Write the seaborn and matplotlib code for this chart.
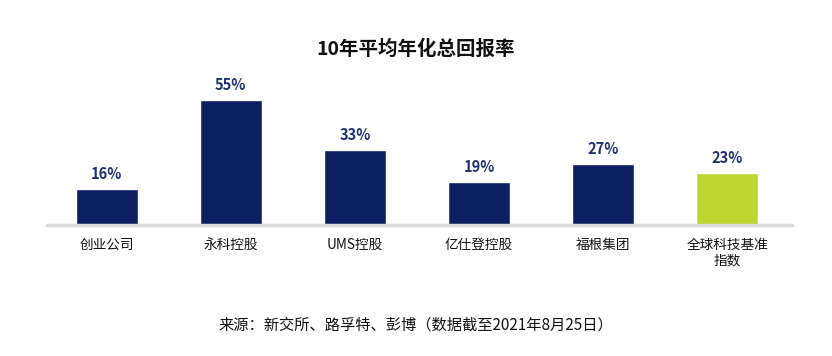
import matplotlib
matplotlib.use("Agg")
import matplotlib.pyplot as plt
import seaborn as sns

# chart data
companies = ['创业公司', '永科控股', 'UMS控股', '亿仕登控股', '福根集团', '全球科技基准\n指数']
returns = [16, 55, 33, 19, 27, 23]
bar_colors = ['#0c1f63', '#0c1f63', '#0c1f63', '#0c1f63', '#0c1f63', '#bdd630']

sns.set_theme(style="white")
plt.rcParams['font.family'] = ['Noto Sans CJK SC', 'DejaVu Sans']

fig = plt.figure(figsize=(8.32, 3.56), dpi=100)
ax = fig.add_axes([0.0565, 0.368, 0.8954, 0.435])

sns.barplot(x=companies, y=returns, hue=companies, palette=bar_colors,
            legend=False, width=0.5, saturation=1, ax=ax)

# value labels above bars
for i, v in enumerate(returns):
    ax.text(i, v + 3.0, f'{v}%', ha='center', va='bottom', fontsize=10.5,
            fontweight='bold', color='#1f3170')

ax.set_xlim(-0.48, 5.52)
ax.set_ylim(0, 68.2)
ax.set_yticks([])
ax.set_xlabel('')
ax.set_ylabel('')
for s in ['top', 'right', 'left']:
    ax.spines[s].set_visible(False)
ax.spines['bottom'].set_color('#d9d9d9')
ax.spines['bottom'].set_linewidth(2.5)
ax.tick_params(axis='x', length=0, pad=9, labelsize=9.8, labelcolor='#111111')
for lbl in ax.get_xticklabels():
    lbl.set_multialignment('center')

fig.text(0.5, 0.862, '10年平均年化总回报率', ha='center', va='center',
         fontsize=14, fontweight='bold', color='#111111')
fig.text(0.5, 0.087, '来源：新交所、路孚特、彭博（数据截至2021年8月25日）',
         ha='center', va='center', fontsize=11, color='#111111')

fig.savefig('out.png', dpi=100)
